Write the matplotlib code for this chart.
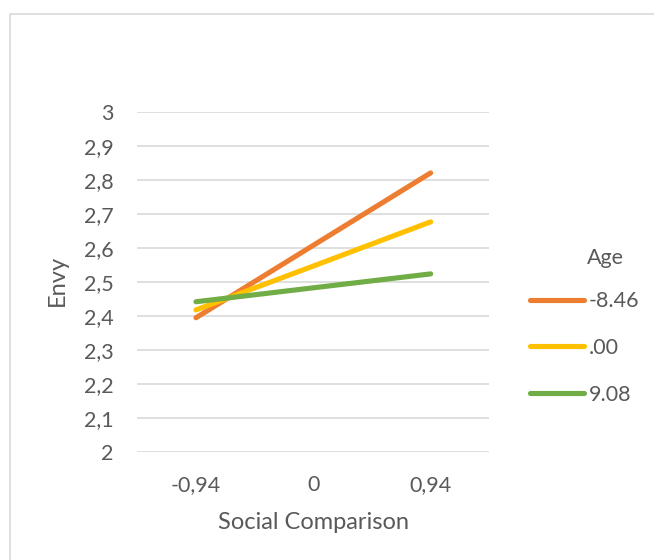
import numpy as np
import matplotlib
matplotlib.use("Agg")
import matplotlib.pyplot as plt
from matplotlib.patches import Rectangle

# data
social_comparison = ["-0,94", "0", "0,94"]
ages = ["-8.46", ".00", "9.08"]
envy_low_age = [2.394, 2.607, 2.820]
envy_mid_age = [2.417, 2.546, 2.676]
envy_high_age = [2.441, 2.482, 2.523]
colors = ["#ED7D31", "#FFC000", "#70AD47"]
y_ticks = [2, 2.1, 2.2, 2.3, 2.4, 2.5, 2.6, 2.7, 2.8, 2.9, 3]

plt.rcParams["font.family"] = ["Lato", "DejaVu Sans"]
txt = "#595959"

fig = plt.figure(figsize=(6.54, 5.6), dpi=100)
fig.patch.set_facecolor("white")

# chart area border (Excel style, cut off on right/bottom)
fig.patches.append(Rectangle((10 / 654, -0.1), 1.2, 1.1 - 14 / 560,
                             transform=fig.transFigure, fill=False,
                             edgecolor="#d9d9d9", linewidth=1.2))

ax = fig.add_axes([137.3 / 654, 1 - 451.7 / 560, 352 / 654, 340 / 560])

x = np.arange(len(social_comparison))
series = [envy_low_age, envy_mid_age, envy_high_age]
for vals, lab, c in zip(series, ages, colors):
    ax.plot(x, vals, color=c, lw=3.7, solid_capstyle="round", label=lab, zorder=3)

ax.set_xlim(-0.5, 2.5)
ax.set_ylim(2, 3)
ax.set_yticks(y_ticks)
ax.set_yticklabels([("%g" % v).replace(".", ",") for v in y_ticks])
ax.set_xticks(x)
ax.set_xticklabels(social_comparison)
ax.grid(axis="y", color="#d9d9d9", lw=1.2)
ax.set_axisbelow(True)
for s in ax.spines.values():
    s.set_visible(False)
ax.tick_params(length=0, colors=txt, labelsize=15.5)
ax.tick_params(axis="y", pad=17)
ax.tick_params(axis="x", pad=17)
ax.set_ylabel("Envy", color=txt, fontsize=17)
ax.yaxis.set_label_coords(-0.197, 0.505)
ax.set_xlabel("Social Comparison", color=txt, fontsize=17, labelpad=12)

leg = fig.legend(loc="center left", bbox_to_anchor=(511 / 654, 1 - 348 / 560),
                 frameon=False, fontsize=15.5, handlelength=2.5,
                 handletextpad=0.2, labelspacing=1.25, labelcolor=txt)
fig.text(587 / 654, 1 - 258 / 560, "Age", color=txt, fontsize=15.5,
         ha="left", va="center")

fig.savefig("out.png", dpi=100)
